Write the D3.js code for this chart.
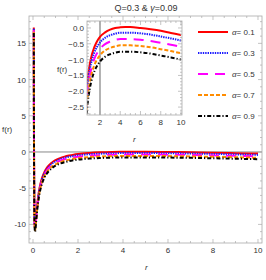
<!DOCTYPE html>
<html>
<head>
<meta charset="utf-8">
<script src="https://cdn.jsdelivr.net/npm/d3@7"></script>
<style>
  body { margin: 0; background: #fff; }
  text { font-family: "Liberation Sans", Arial, sans-serif; fill: #333; }
</style>
</head>
<body>
<svg width="266" height="280"></svg>
<script>
// r values shared by all curves
const rVals = [0.035, 0.04, 0.045, 0.05, 0.055, 0.06, 0.07, 0.08, 0.09, 0.1,
  0.12, 0.14, 0.17, 0.2, 0.25, 0.3, 0.4, 0.5, 0.6, 0.7,
  0.8, 0.9, 1, 1.2, 1.4, 1.6, 1.8, 2, 2.5, 3,
  3.5, 4, 4.5, 5, 6, 7, 8, 9, 10];

const alpha01 = [17.20, 7.12, 0.87, -3.13, -5.74, -7.47, -9.34, -10.07, -10.25, -10.14,
  -9.56, -8.84, -7.80, -6.90, -5.71, -4.82, -3.60, -2.82, -2.27, -1.87,
  -1.56, -1.32, -1.13, -0.84, -0.64, -0.49, -0.37, -0.28, -0.14, -0.05,
  0.00, 0.02, 0.03, 0.03, 0.00, -0.04, -0.09, -0.16, -0.22];
const alpha03 = [17.02, 6.95, 0.70, -3.30, -5.91, -7.64, -9.51, -10.24, -10.42, -10.31,
  -9.73, -9.01, -7.97, -7.07, -5.88, -4.99, -3.77, -2.99, -2.44, -2.04,
  -1.73, -1.49, -1.30, -1.01, -0.81, -0.66, -0.55, -0.46, -0.31, -0.23,
  -0.18, -0.15, -0.15, -0.15, -0.17, -0.21, -0.27, -0.33, -0.40];
const alpha05 = [16.82, 6.75, 0.50, -3.50, -6.11, -7.84, -9.71, -10.44, -10.62, -10.51,
  -9.93, -9.21, -8.17, -7.27, -6.08, -5.19, -3.97, -3.19, -2.64, -2.24,
  -1.93, -1.69, -1.50, -1.21, -1.01, -0.86, -0.75, -0.66, -0.51, -0.43,
  -0.38, -0.35, -0.35, -0.35, -0.37, -0.41, -0.47, -0.53, -0.60];
const alpha07 = [16.62, 6.55, 0.30, -3.70, -6.31, -8.04, -9.91, -10.64, -10.82, -10.71,
  -10.13, -9.41, -8.37, -7.47, -6.28, -5.39, -4.17, -3.39, -2.84, -2.44,
  -2.13, -1.89, -1.70, -1.41, -1.21, -1.06, -0.95, -0.86, -0.71, -0.63,
  -0.58, -0.55, -0.55, -0.55, -0.57, -0.61, -0.67, -0.73, -0.80];
const alpha09 = [16.42, 6.35, 0.10, -3.90, -6.51, -8.24, -10.11, -10.84, -11.02, -10.91,
  -10.33, -9.61, -8.57, -7.67, -6.48, -5.59, -4.37, -3.59, -3.04, -2.64,
  -2.33, -2.09, -1.90, -1.61, -1.41, -1.26, -1.15, -1.06, -0.91, -0.83,
  -0.78, -0.75, -0.75, -0.75, -0.77, -0.81, -0.87, -0.93, -1.00];

const labels = ["0.1", "0.3", "0.5", "0.7", "0.9"];
const mainXTicks = [0, 2, 4, 6, 8, 10];
const mainYTicks = [-10, -5, 0, 5, 10, 15];
const insetXTicks = [2, 4, 6, 8, 10];
const insetYTicks = [0, -0.5, -1, -1.5, -2, -2.5];

const styles = [
  { color: "#ff0000", dash: null, w: 2 },
  { color: "#1a1aff", dash: "1.4,1", w: 2 },
  { color: "#ff00ff", dash: "10,7", w: 2 },
  { color: "#ff8c00", dash: "4,2", w: 2 },
  { color: "#000000", dash: "4,2,1.2,2", w: 2 }
];

const series = [alpha01, alpha03, alpha05, alpha07, alpha09].map((vals, i) => ({
  label: labels[i],
  style: styles[i],
  points: rVals.map((r, j) => [r, vals[j]])
}));

const svg = d3.select("svg");
const frameColor = "#aaa";

// white background + clipped group for a panel
function drawPanel(g, x, y, id) {
  const [x0, x1] = x.range(), [y1, y0] = y.range();

  g.append("rect").attr("x", x0).attr("y", y0)
    .attr("width", x1 - x0).attr("height", y1 - y0)
    .attr("fill", "#fff");

  g.append("clipPath").attr("id", id)
    .append("rect").attr("x", x0).attr("y", y0)
    .attr("width", x1 - x0).attr("height", y1 - y0);

  return g.append("g").attr("clip-path", `url(#${id})`);
}

function drawFrame(g, x, y, xTicks, yTicks, xMinor, yMinor, fmtY) {
  const [x0, x1] = x.range(), [y1, y0] = y.range();
  g.append("rect").attr("x", x0).attr("y", y0)
    .attr("width", x1 - x0).attr("height", y1 - y0)
    .attr("fill", "none").attr("stroke", frameColor).attr("stroke-width", 0.8);

  const tk = (len, list, horiz) => list.forEach(v => {
    if (horiz) {
      const px = x(v);
      g.append("line").attr("x1", px).attr("x2", px).attr("y1", y1).attr("y2", y1 - len).attr("stroke", frameColor).attr("stroke-width", 0.7);
      g.append("line").attr("x1", px).attr("x2", px).attr("y1", y0).attr("y2", y0 + len).attr("stroke", frameColor).attr("stroke-width", 0.7);
    } else {
      const py = y(v);
      g.append("line").attr("x1", x0).attr("x2", x0 + len).attr("y1", py).attr("y2", py).attr("stroke", frameColor).attr("stroke-width", 0.7);
      g.append("line").attr("x1", x1).attr("x2", x1 - len).attr("y1", py).attr("y2", py).attr("stroke", frameColor).attr("stroke-width", 0.7);
    }
  });
  tk(4, xTicks, true); tk(2, xMinor, true);
  tk(4, yTicks, false); tk(2, yMinor, false);

  g.selectAll(null).data(xTicks).enter().append("text")
    .attr("x", d => x(d)).attr("y", y1 + 10)
    .attr("text-anchor", "middle").attr("font-size", 8)
    .text(d => d);
  g.selectAll(null).data(yTicks).enter().append("text")
    .attr("x", x0 - 3).attr("y", d => y(d) + 3)
    .attr("text-anchor", "end").attr("font-size", 8)
    .text(fmtY);
}

const line = (x, y) => d3.line().x(d => x(d[0])).y(d => y(d[1])).curve(d3.curveMonotoneX);

function drawCurves(g, x, y, data) {
  series.forEach(s => {
    g.append("path")
      .datum(data(s.points))
      .attr("d", line(x, y))
      .attr("fill", "none")
      .attr("stroke", s.style.color)
      .attr("stroke-width", s.style.w)
      .attr("stroke-dasharray", s.style.dash);
  });
}

// main plot
const x = d3.scaleLinear().domain([-0.178, 10.178]).range([29, 262]);
const y = d3.scaleLinear().domain([-12.57, 18.78]).range([243, 16]);

const mainG = svg.append("g");
const mainPlot = drawPanel(mainG, x, y, "clipMain");
mainPlot.append("line")
  .attr("x1", x.range()[0]).attr("x2", x.range()[1])
  .attr("y1", y(0)).attr("y2", y(0))
  .attr("stroke", "#888").attr("stroke-width", 1);
drawCurves(mainPlot, x, y, p => p);
drawFrame(mainG, x, y, mainXTicks, mainYTicks,
  d3.range(0, 10.01, 0.5).filter(v => v % 2 !== 0),
  d3.range(-12, 18.1, 1).filter(v => v % 5 !== 0),
  d => d);

svg.append("text").attr("x", 146).attr("y", 11).attr("text-anchor", "middle")
  .attr("font-size", 9)
  .html('Q=0.3 &amp; <tspan font-style="italic">γ</tspan>=0.09');
svg.append("text").attr("x", 2).attr("y", 132).attr("font-size", 8).text("f(r)");
svg.append("text").attr("x", 145).attr("y", 270).attr("font-size", 8)
  .attr("font-style", "italic").text("r");

// inset
const xi = d3.scaleLinear().domain([0.716, 10.1]).range([87, 182]);
const yi = d3.scaleLinear().domain([-2.75, 0.22]).range([115, 21]);
const insetG = svg.append("g");
const insetPlot = drawPanel(insetG, xi, yi, "clipInset");
insetPlot.append("line")
  .attr("x1", xi(2)).attr("x2", xi(2))
  .attr("y1", yi.range()[0]).attr("y2", yi.range()[1])
  .attr("stroke", "#999").attr("stroke-width", 1.5);
drawCurves(insetPlot, xi, yi, p => p.filter(d => d[0] >= 0.5));
drawFrame(insetG, xi, yi, insetXTicks, insetYTicks,
  d3.range(1, 10.01, 0.5).filter(v => v % 2 !== 0),
  d3.range(-2.7, 0.21, 0.1).filter(v => Math.abs(v * 2 - Math.round(v * 2)) > 0.01),
  d => d3.format(".1f")(d));
svg.append("text").attr("x", 57).attr("y", 72).attr("font-size", 8).text("f(r)");
svg.append("text").attr("x", 133).attr("y", 142).attr("font-size", 8)
  .attr("font-style", "italic").text("r");

// legend
const legend = svg.append("g");
series.forEach((s, i) => {
  const ly = 32 + i * 21;
  legend.append("line")
    .attr("x1", 198).attr("x2", 228).attr("y1", ly).attr("y2", ly)
    .attr("stroke", s.style.color).attr("stroke-width", s.style.w)
    .attr("stroke-dasharray", s.style.dash);
  legend.append("text").attr("x", 232).attr("y", ly + 3).attr("font-size", 8)
    .html(`<tspan font-style="italic">α</tspan>= ${s.label}`);
});
</script>
</body>
</html>
